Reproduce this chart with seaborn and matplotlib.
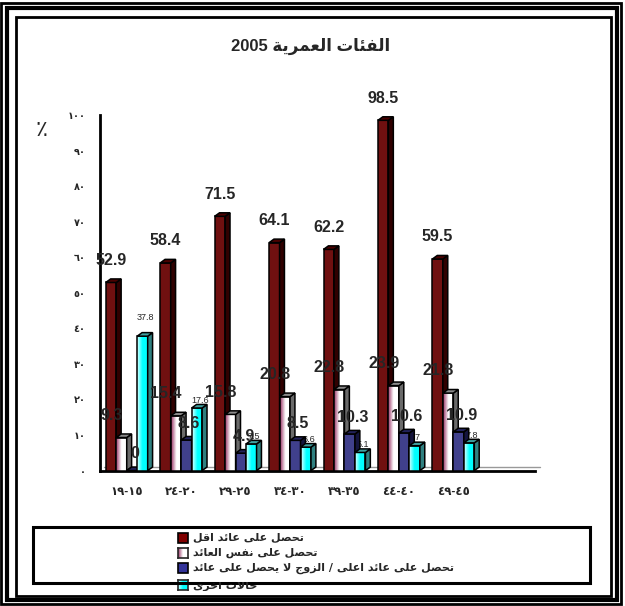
import numpy as np
import pandas as pd
import matplotlib
matplotlib.use("Agg")
import matplotlib.pyplot as plt
import seaborn as sns
from matplotlib.patches import Polygon, Rectangle
from matplotlib.colors import LinearSegmentedColormap

# data
age_groups = ["١٩-١٥", "٢٤-٢٠", "٢٩-٢٥", "٣٤-٣٠", "٣٩-٣٥", "٤٤-٤٠", "٤٩-٤٥"]
lower_income = [52.9, 58.4, 71.5, 64.1, 62.2, 98.5, 59.5]
same_income = [9.3, 15.4, 15.8, 20.8, 22.8, 23.9, 21.8]
higher_income = [0, 8.6, 4.9, 8.5, 10.3, 10.6, 10.9]
other_cases = [37.8, 17.6, 7.5, 6.6, 5.1, 7.0, 7.8]
series_names = ["تحصل على عائد اقل", "تحصل على نفس العائد",
                "تحصل على عائد اعلى / الزوج لا يحصل على عائد", "حالات أخرى"]
y_tick_labels = ["٠", "١٠", "٢٠", "٣٠", "٤٠", "٥٠", "٦٠", "٧٠", "٨٠", "٩٠", "١٠٠"]
title_ar = "الفئات العمرية"
title_year = "2005"

# minimal arabic shaping (matplotlib has no bidi / joining)
FORMS = {
    'ا': (0xFE8D, 0xFE8E, None, None), 'أ': (0xFE83, 0xFE84, None, None),
    'ب': (0xFE8F, 0xFE90, 0xFE91, 0xFE92), 'ة': (0xFE93, 0xFE94, None, None),
    'ت': (0xFE95, 0xFE96, 0xFE97, 0xFE98), 'ج': (0xFE9D, 0xFE9E, 0xFE9F, 0xFEA0),
    'ح': (0xFEA1, 0xFEA2, 0xFEA3, 0xFEA4), 'خ': (0xFEA5, 0xFEA6, 0xFEA7, 0xFEA8),
    'د': (0xFEA9, 0xFEAA, None, None), 'ر': (0xFEAD, 0xFEAE, None, None),
    'ز': (0xFEAF, 0xFEB0, None, None), 'س': (0xFEB1, 0xFEB2, 0xFEB3, 0xFEB4),
    'ص': (0xFEB9, 0xFEBA, 0xFEBB, 0xFEBC), 'ع': (0xFEC9, 0xFECA, 0xFECB, 0xFECC),
    'ف': (0xFED1, 0xFED2, 0xFED3, 0xFED4), 'ق': (0xFED5, 0xFED6, 0xFED7, 0xFED8),
    'ل': (0xFEDD, 0xFEDE, 0xFEDF, 0xFEE0), 'م': (0xFEE1, 0xFEE2, 0xFEE3, 0xFEE4),
    'ن': (0xFEE5, 0xFEE6, 0xFEE7, 0xFEE8), 'و': (0xFEED, 0xFEEE, None, None),
    'ى': (0xFEEF, 0xFEF0, None, None), 'ي': (0xFEF1, 0xFEF2, 0xFEF3, 0xFEF4),
    'ئ': (0xFE89, 0xFE8A, 0xFE8B, 0xFE8C),
}
LAM_ALEF = {'ا': (0xFEFB, 0xFEFC), 'أ': (0xFEF7, 0xFEF8)}


def joins_next(c):
    return c in FORMS and FORMS[c][2] is not None


def shape(text):
    out = []
    i = 0
    while i < len(text):
        c = text[i]
        if c not in FORMS:
            out.append(c)
            i += 1
            continue
        linked_prev = i > 0 and joins_next(text[i - 1])
        if c == 'ل' and i + 1 < len(text) and text[i + 1] in LAM_ALEF:
            iso, fin = LAM_ALEF[text[i + 1]]
            out.append(chr(fin if linked_prev else iso))
            i += 2
            continue
        linked_next = joins_next(c) and i + 1 < len(text) and text[i + 1] in FORMS
        iso, fin, ini, med = FORMS[c]
        if linked_prev and linked_next:
            code = med
        elif linked_prev:
            code = fin
        elif linked_next:
            code = ini
        else:
            code = iso
        out.append(chr(code))
        i += 1
    return "".join(reversed(out))


sns.set_style("white")
plt.rcParams["font.family"] = ["Liberation Sans", "DejaVu Sans"]
plt.rcParams["font.weight"] = "bold"

W, H = 625, 606
def fx(px):
    return px / W
def fy(py):
    return 1 - py / H

df = pd.DataFrame({
    "group": age_groups * 4,
    "series": [s for s in series_names for _ in age_groups],
    "value": lower_income + same_income + higher_income + other_cases,
})

front = ["#800000", "#993366", "#333399", "#00ffff"]
side = ["#300000", "#6a6a6a", "#14143d", "#2f8080"]
top = ["#4a0000", "#8a8a8a", "#22225a", "#40a0a0"]
grads = {1: LinearSegmentedColormap.from_list("pk", ["#993366", "#ffffff", "#ffffff"]),
         3: LinearSegmentedColormap.from_list("cy", ["#e0ffff", "#00ffff", "#00ffff"])}

fig = plt.figure(figsize=(W / 100, H / 100), dpi=100)
ax = fig.add_axes([fx(99.5), fy(470.6), fx(535) - fx(99.5), fy(115) - fy(470.6)])

sns.barplot(data=df, x="group", y="value", hue="series", order=age_groups,
            hue_order=series_names, palette=dict(zip(series_names, front)),
            width=0.77, dodge=True, edgecolor="black", linewidth=1.1,
            legend=False, ax=ax)

dx, dy = 0.09, 1.0
grad = np.linspace(0, 1, 64).reshape(1, -1)
n = len(age_groups)
for idx, p in enumerate(ax.patches[:4 * n]):
    k = idx // n
    x0, w, h = p.get_x(), p.get_width(), p.get_height()
    z = 3 + k * 0.3 + (idx % n) * 0.001
    p.set_zorder(z)
    if k in grads:
        im = ax.imshow(grad, extent=[x0, x0 + w, 0, h], cmap=grads[k],
                       aspect="auto", zorder=z - 0.01, interpolation="bilinear")
        im.set_clip_path(p)
        p.set_facecolor("none")
    ax.add_patch(Polygon([(x0 + w, 0), (x0 + w + dx, dy), (x0 + w + dx, h + dy), (x0 + w, h)],
                         closed=True, fc=side[k], ec="black", lw=1.1, zorder=z + 0.01))
    ax.add_patch(Polygon([(x0, h), (x0 + dx, h + dy), (x0 + w + dx, h + dy), (x0 + w, h)],
                         closed=True, fc=top[k], ec="black", lw=1.1, zorder=z + 0.02))

# value labels (offset x, offset y, size, weight, vertical align, layer)
label_style = [(0, 8, 11.5, "bold", "bottom", 10), (-7, 8, 11.5, "bold", "bottom", 10),
               (2, 4, 11.5, "bold", "bottom", 10), (2, 3, 6.5, "normal", "center", 2.9)]
all_values = [lower_income, same_income, higher_income, other_cases]
for idx, p in enumerate(ax.patches[:4 * n]):
    k = idx // n
    v = all_values[k][idx % n]
    offx, offy, fs, fw, va, zl = label_style[k]
    if k == 3 and v > 30:
        offy, va, zl = 8, "bottom", 10
    ax.annotate(f"{v:g}", (p.get_x() + p.get_width() / 2, p.get_height() + dy),
                xytext=(offx, offy), textcoords="offset points", ha="center",
                va=va, fontsize=fs, fontweight=fw, zorder=zl)

# floor line
ax.plot([-0.5 + dx, 7.5 + dx], [dy, dy], color="#999999", lw=1, zorder=1, clip_on=False)

ax.set_xlim(-0.5, 7.5)
ax.set_ylim(0, 100)
ax.set_yticks(range(0, 101, 10))
ax.set_yticklabels(y_tick_labels, fontsize=7, fontweight="bold")
ax.set_xticks(range(n))
ax.set_xticklabels(age_groups, fontsize=8.5, fontweight="bold")
ax.set_xticks(np.arange(-0.5, 8, 1), minor=True)
ax.tick_params(axis="x", which="major", length=0, pad=11)
ax.tick_params(axis="x", which="minor", length=5, width=1.5, direction="out", color="black")
ax.tick_params(axis="y", length=4, width=1.5, direction="out", color="black", pad=6)
ax.set_xlabel("")
ax.set_ylabel("")
sns.despine(ax=ax)
for s in ["left", "bottom"]:
    ax.spines[s].set_linewidth(2)
    ax.spines[s].set_color("black")
ax.patch.set_alpha(0)

fig.text(fx(42), fy(130), "٪", fontsize=16, ha="center", va="center",
         family=["DejaVu Sans"], fontweight="normal")
fig.text(fx(311), fy(46), title_year + " " + shape(title_ar), fontsize=12,
         fontweight="bold", ha="center", va="center")

# legend box drawn by hand
fig.add_artist(Rectangle((fx(33), fy(583)), fx(590) - fx(33), fy(527) - fy(583),
                         transform=fig.transFigure, fill=False, ec="black", lw=2.2))
clip = Rectangle((0, fy(591)), 1, fy(582) - fy(591), transform=fig.transFigure,
                 fill=False, lw=0)
fig.add_artist(clip)
clip.set_visible(False)
for k, name in enumerate(series_names):
    yc = 538 + 15 * k
    if k == 3:
        yc += 2
    if k in grads:
        mk = fig.add_axes([fx(178), fy(yc + 5), fx(10), 10 / H])
        mk.imshow(grad, cmap=grads[k], aspect="auto", extent=[0, 1, 0, 1])
        mk.set_xticks([])
        mk.set_yticks([])
        for sp in mk.spines.values():
            sp.set_linewidth(1.2)
    else:
        fig.add_artist(Rectangle((fx(178), fy(yc + 5)), fx(10), 10 / H,
                                 transform=fig.transFigure, fc=front[k], ec="black", lw=1.2))
    t = fig.text(fx(193), fy(yc), shape(name), fontsize=8, fontweight="bold",
                 ha="left", va="center", family=["DejaVu Sans"])
    if k == 3:
        t.set_clip_path(clip)
        t.set_clip_on(True)

# frame
for (x0, y0, x1, y1, lw) in [(1.5, 3, 621, 604, 2), (7, 8, 617, 600, 3), (15.5, 17, 611, 596, 2)]:
    fig.add_artist(Rectangle((fx(x0), fy(y1)), fx(x1) - fx(x0), fy(y0) - fy(y1),
                             transform=fig.transFigure, fill=False, ec="black", lw=lw))

fig.savefig("out.png", dpi=100)
